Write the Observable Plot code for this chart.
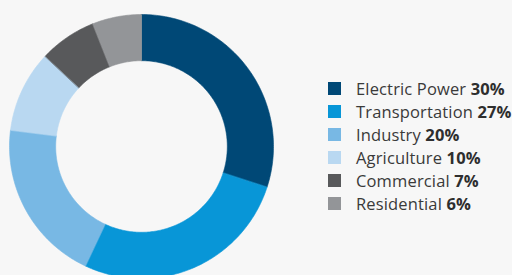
<!DOCTYPE html>
<html>
<head>
<meta charset="utf-8">
<script src="https://cdn.jsdelivr.net/npm/d3@7"></script>
<script src="https://cdn.jsdelivr.net/npm/@observablehq/plot@0.6"></script>
<style>
  html, body { margin: 0; padding: 0; background: #f7f7f7; }
  #wrap { position: relative; width: 512px; height: 275px; overflow: hidden; background: #f7f7f7; }
  #legend { position: absolute; left: 328px; top: 77px; font-family: "Open Sans", sans-serif; font-size: 16.5px; letter-spacing: 0.15px; color: #3a3a3a; }
  .row { display: flex; align-items: center; height: 23px; white-space: nowrap; }
  .sw { width: 13px; height: 13px; margin-right: 15px; flex: none; }
  .row b { font-weight: 700; color: #2e2e2e; }
</style>
</head>
<body>
<div id="wrap"><div id="chart"></div><div id="legend"></div></div>
<script>
const categories = ["Electric Power", "Transportation", "Industry", "Agriculture", "Commercial", "Residential"];
const values = [30, 27, 20, 10, 7, 6];
const colors = ["#004876", "#0896d7", "#78b8e4", "#b9d8f1", "#58595b", "#939598"];

const innerR = 0.65;
const pie = d3.pie().sort(null).value(d => d.value)(categories.map((c, i) => ({category: c, value: values[i]})));
const pts = [];
for (const s of pie) {
  const n = Math.max(8, Math.ceil((s.endAngle - s.startAngle) * 60));
  for (let k = 0; k <= n; k++) {
    const a = s.startAngle + (s.endAngle - s.startAngle) * k / n;
    pts.push({category: s.data.category, x: Math.sin(a), y: Math.cos(a)});
  }
  for (let k = n; k >= 0; k--) {
    const a = s.startAngle + (s.endAngle - s.startAngle) * k / n;
    pts.push({category: s.data.category, x: innerR * Math.sin(a), y: innerR * Math.cos(a)});
  }
}

const chart = Plot.plot({
  width: 512,
  height: 275,
  margin: 0,
  style: {background: "#f7f7f7"},
  x: {domain: [-1, 1], range: [9, 273], axis: null},
  y: {domain: [-1, 1], range: [278, 14], axis: null},
  color: {domain: categories, range: colors},
  marks: [
    Plot.line(pts, {x: "x", y: "y", z: "category", fill: "category", stroke: "category", strokeWidth: 0.6, curve: "linear-closed"})
  ]
});
document.getElementById("chart").appendChild(chart);

const legend = document.getElementById("legend");
categories.forEach((c, i) => {
  const row = document.createElement("div");
  row.className = "row";
  row.innerHTML = `<span class="sw" style="background:${colors[i]}"></span><span>${c} <b>${values[i]}%</b></span>`;
  legend.appendChild(row);
});
</script>
</body>
</html>
